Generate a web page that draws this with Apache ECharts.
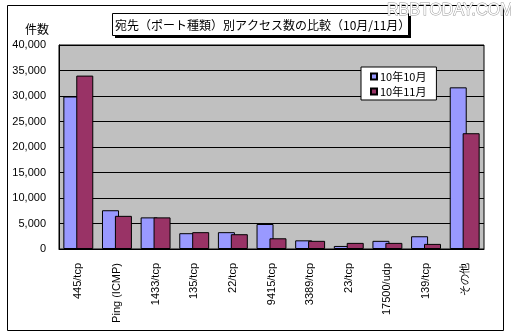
<!DOCTYPE html>
<html>
<head>
<meta charset="utf-8">
<script src="https://cdn.jsdelivr.net/npm/echarts@6/dist/echarts.min.js"></script>
<style>html,body{margin:0;padding:0;background:#fff}#c{width:511px;height:334px}</style>
</head>
<body>
<div id="c"></div>
<script>
const categories = ['445/tcp','Ping (ICMP)','1433/tcp','135/tcp','22/tcp','9415/tcp','3389/tcp','23/tcp','17500/udp','139/tcp','その他'];
const seriesNames = ['10年10月','10年11月'];
const oct = [29900, 7600, 6200, 3100, 3300, 4900, 1700, 600, 1600, 2500, 31700];
const nov = [34000, 6500, 6200, 3300, 2900, 2100, 1600, 1200, 1200, 1000, 22700];
const yTicks = {min: 0, max: 40000, interval: 5000};
const titleText = '宛先（ポート種類）別アクセス数の比較（10月/11月）';
const yName = '件数';

const chart = echarts.init(document.getElementById('c'), null, {renderer: 'canvas'});
const lbl = {color: '#000', fontFamily: 'Liberation Sans, Arial, sans-serif', fontSize: 11};
chart.setOption({
  backgroundColor: '#fff',
  animation: false,
  grid: {left: 59, right: 27, top: 45, bottom: 85, show: true, backgroundColor: '#C0C0C0', borderColor: '#000', borderWidth: 1},
  xAxis: {
    type: 'category', data: categories, boundaryGap: true,
    axisLine: {lineStyle: {color: '#000'}},
    axisTick: {inside: true, length: 4, lineStyle: {color: '#000'}},
    axisLabel: Object.assign({rotate: 90, margin: 14, interval: 0}, lbl)
  },
  yAxis: {
    type: 'value', min: yTicks.min, max: yTicks.max, interval: yTicks.interval,
    axisLine: {show: true, lineStyle: {color: '#000'}},
    axisTick: {show: false},
    splitLine: {lineStyle: {color: '#000', width: 1}},
    axisLabel: Object.assign({margin: 13, formatter: v => v.toLocaleString('en-US')}, lbl)
  },
  legend: {
    data: seriesNames, orient: 'vertical', left: 361, top: 67,
    backgroundColor: '#fff', borderColor: '#000', borderWidth: 1,
    padding: [4, 10, 3, 9], itemGap: 4, itemWidth: 6, itemHeight: 6, icon: 'rect',
    textStyle: {color: '#000', fontSize: 11, fontFamily: 'Noto Sans CJK JP, sans-serif', padding: [0,0,0,-2]}
  },
  series: [
    {name: seriesNames[0], type: 'bar', data: oct, barWidth: 17, barGap: '-24%',
     itemStyle: {color: '#9999FF', borderColor: '#000', borderWidth: 1}},
    {name: seriesNames[1], type: 'bar', data: nov, barWidth: 17,
     itemStyle: {color: '#993366', borderColor: '#000', borderWidth: 1}}
  ],
  graphic: [
    {type: 'rect', z: 0, shape: {x: 7.5, y: 5.5, width: 496, height: 325}, style: {fill: 'none', stroke: '#000', lineWidth: 1}},
    {type: 'rect', z: 10, shape: {x: 115, y: 16, width: 296, height: 22}, style: {fill: '#000'}},
    {type: 'rect', z: 11, shape: {x: 112.5, y: 13.5, width: 296, height: 22}, style: {fill: '#fff', stroke: '#000', lineWidth: 1}},
    {type: 'text', z: 12, x: 115, y: 25, style: {text: titleText, fill: '#000', font: '12px "Noto Sans CJK JP", sans-serif', verticalAlign: 'middle'}},
    {type: 'text', z: 12, x: 25, y: 29, style: {text: yName, fill: '#000', font: '12px "Noto Sans CJK JP", sans-serif', verticalAlign: 'middle'}},
    {type: 'text', z: 13, x: 387, y: 11, style: {text: 'RBBTODAY.COM', fill: '#fff', stroke: '#999', lineWidth: 1, font: '16px "Liberation Sans", Arial, sans-serif', verticalAlign: 'middle'}}
  ]
});
</script>
</body>
</html>
